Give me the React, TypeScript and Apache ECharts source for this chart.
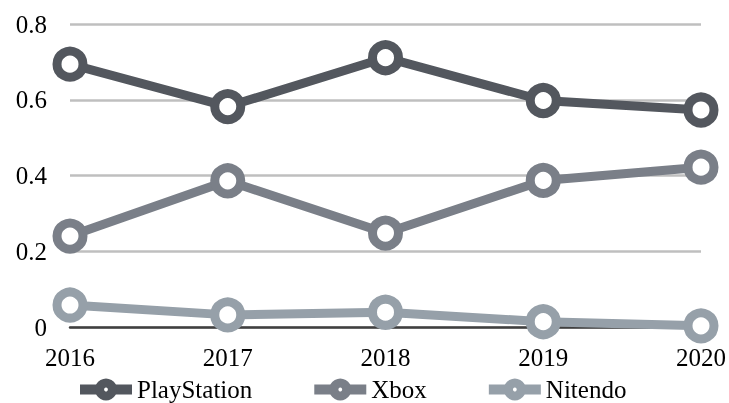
import React, { useEffect, useRef } from "react";
import * as echarts from "echarts";

const categories = ["2016", "2017", "2018", "2019", "2020"];
const playstation = [0.694, 0.582, 0.711, 0.598, 0.573];
const xbox = [0.24, 0.386, 0.248, 0.387, 0.422];
const nintendo = [0.058, 0.032, 0.039, 0.014, 0.003];
const yTicks = [0, 0.2, 0.4, 0.6, 0.8];

const seriesNames = ["PlayStation", "Xbox", "Nitendo"];
const seriesColors = ["#53575e", "#7a7f88", "#96a0a9"];

export default function App() {
  const ref = useRef<HTMLDivElement>(null);
  useEffect(() => {
    if (!ref.current) return;
    const chart = echarts.init(ref.current, undefined, { renderer: "svg" });
    const font = "Liberation Serif";
    const fs = 25;
    const mk = (name: string, data: number[], color: string) => ({
      name,
      type: "line",
      data,
      symbol: "circle",
      symbolSize: 26,
      lineStyle: { color, width: 9 },
      itemStyle: { color: "#ffffff", borderColor: color, borderWidth: 9 },
      emphasis: { disabled: true },
    });
    chart.setOption({
      animation: false,
      textStyle: { fontFamily: font, fontSize: fs },
      grid: { left: 70, right: 27, top: 24, bottom: 76, containLabel: false },
      legend: {
        top: 377,
        left: 75,
        padding: 0,
        itemWidth: 52,
        itemHeight: 16,
        itemGap: 57,
        itemTextGap: 6,
        lineStyle: { width: 10 },
        itemStyle: { borderWidth: 9, color: "#ffffff" },
        textStyle: { fontFamily: font, fontSize: fs, color: "#000" },
        data: seriesNames,
      },
      xAxis: {
        type: "category",
        data: categories,
        boundaryGap: false,
        axisLine: { lineStyle: { color: "#404040", width: 2.5 } },
        axisTick: { show: false },
        axisLabel: { fontFamily: font, fontSize: fs, color: "#000", margin: 18 },
        splitLine: { show: false },
      },
      yAxis: {
        type: "value",
        min: yTicks[0],
        max: yTicks[yTicks.length - 1],
        interval: 0.2,
        axisLine: { show: false },
        axisTick: { show: false },
        axisLabel: {
          fontFamily: font,
          fontSize: fs,
          color: "#000",
          margin: 23,
          formatter: (v: number) => (v === 0 ? "0" : v.toFixed(1)),
        },
        splitLine: { lineStyle: { color: "#bfbfbf", width: 2.5 } },
      },
      series: [
        mk(seriesNames[0], playstation, seriesColors[0]),
        mk(seriesNames[1], xbox, seriesColors[1]),
        mk(seriesNames[2], nintendo, seriesColors[2]),
      ],
    });
    return () => chart.dispose();
  }, []);
  return (
    <div
      ref={ref}
      style={{ position: "fixed", left: 0, top: 0, width: 729, height: 403, overflow: "hidden" }}
    />
  );
}
